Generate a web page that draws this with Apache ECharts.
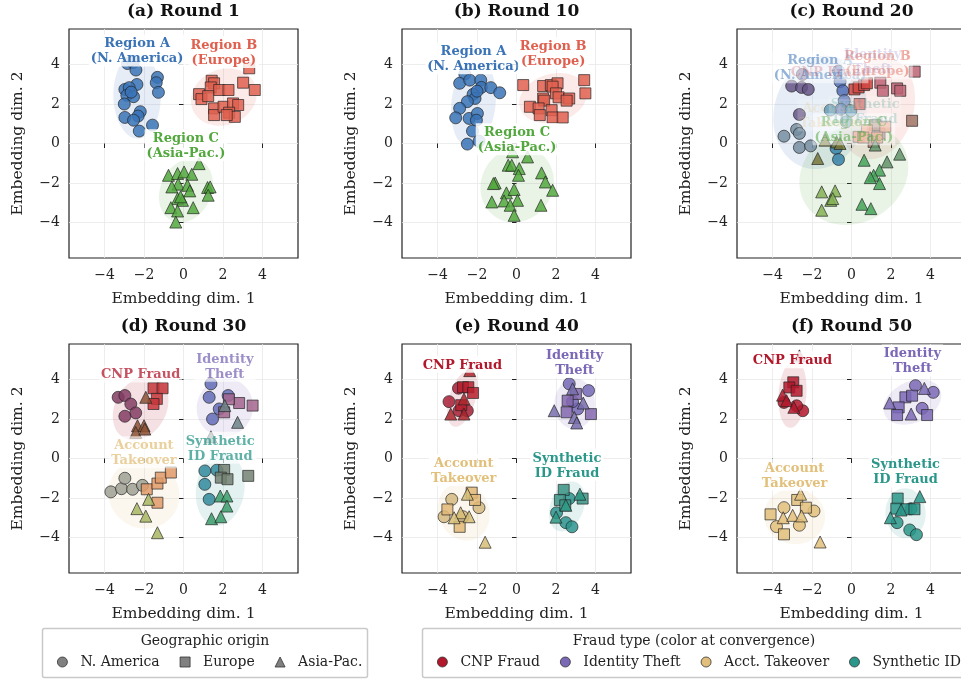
<!DOCTYPE html>
<html>
<head>
<meta charset="utf-8">
<script src="https://cdn.jsdelivr.net/npm/echarts@6/dist/echarts.min.js"></script>
<style>
  html, body { margin: 0; padding: 0; background: #fff; }
  #chart { width: 961px; height: 682px; }
</style>
</head>
<body>
<div id="chart"></div>
<script>
// ---------------- data ----------------
const panelTitles = ['(a) Round 1', '(b) Round 10', '(c) Round 20', '(d) Round 30', '(e) Round 40', '(f) Round 50'];
const regionNames = ['N. America', 'Europe', 'Asia-Pac.'];
const regionLabels = ['Region A\n(N. America)', 'Region B\n(Europe)', 'Region C\n(Asia-Pac.)'];
const fraudNames = ['CNP Fraud', 'Identity Theft', 'Acct. Takeover', 'Synthetic ID'];
const fraudLabels = ['CNP Fraud', 'Identity\nTheft', 'Account\nTakeover', 'Synthetic\nID Fraud'];
const tickValues = [-4, -2, 0, 2, 4];
const axisNames = ['Embedding dim. 1', 'Embedding dim. 2'];

// [x, y, region]  region: 0 N. America, 1 Europe, 2 Asia-Pac.
const round1 = [
  [-2.84, 4.05, 0], [-2.55, 4.1, 0], [-2.41, 3.72, 0], [-1.32, 3.35, 0], [-1.38, 3.08, 0],
  [-1.27, 2.59, 0], [-2.36, 2.99, 0], [-2.97, 2.74, 0], [-2.75, 2.83, 0], [-2.87, 2.44, 0],
  [-2.53, 2.37, 0], [-3.0, 2.0, 0], [-2.19, 1.61, 0], [-2.30, 1.39, 0], [-2.97, 1.32, 0],
  [-2.53, 1.18, 0], [-1.57, 0.93, 0], [-2.24, 0.63, 0], [-2.65, 2.6, 0],
  [3.33, 3.81, 1], [1.43, 3.18, 1], [1.55, 3.05, 1], [1.38, 2.84, 1], [1.81, 2.71, 1],
  [2.28, 2.71, 1], [3.02, 3.08, 1], [3.61, 2.71, 1], [0.79, 2.5, 1], [0.91, 2.25, 1],
  [1.25, 2.4, 1], [1.55, 1.78, 1], [1.55, 1.44, 1], [2.03, 1.86, 1], [2.51, 2.03, 1],
  [2.77, 1.95, 1], [2.31, 1.56, 1], [2.6, 1.35, 1], [2.19, 1.44, 1],
  [0.79, -1.02, 2], [-0.76, -1.61, 2], [-0.30, -1.52, 2], [0.03, -1.44, 2], [0.42, -1.56, 2],
  [-0.27, -2.06, 2], [-0.59, -2.2, 2], [0.2, -2.12, 2], [0.32, -2.4, 2], [1.22, -2.23, 2],
  [1.35, -2.2, 2], [1.25, -2.62, 2], [-0.3, -2.79, 2], [-0.05, -2.88, 2], [-0.64, -3.25, 2],
  [-0.3, -3.42, 2], [0.49, -3.25, 2], [-0.39, -3.98, 2], [-0.15, -2.7, 2]
];

const round10 = [
  [-2.62, 3.52, 0], [-2.88, 3.05, 0], [-2.37, 3.21, 0], [-1.81, 3.21, 0], [-1.78, 2.84, 0],
  [-1.30, 2.83, 0], [-0.85, 2.57, 0], [-2.2, 2.49, 0], [-2.1, 2.28, 0], [-2.49, 2.12, 0],
  [-2.88, 1.78, 0], [-3.08, 1.30, 0], [-2.40, 1.27, 0], [-1.98, 1.52, 0], [-2.03, 1.18, 0],
  [-2.23, 0.63, 0], [-1.9, 0.12, 0], [-2.49, -0.03, 0], [-2.0, 2.65, 0],
  [0.34, 2.96, 1], [1.35, 2.91, 1], [1.74, 2.96, 1], [2.08, 3.05, 1], [1.83, 2.88, 1],
  [3.43, 3.21, 1], [3.49, 2.54, 1], [2.0, 2.54, 1], [2.13, 2.34, 1], [2.67, 2.28, 1],
  [2.54, 2.17, 1], [1.35, 2.28, 1], [1.40, 2.17, 1], [0.68, 1.86, 1], [1.12, 1.78, 1],
  [1.18, 1.44, 1], [1.78, 1.69, 1], [1.83, 1.32, 1], [2.34, 1.32, 1],
  [-0.2, -0.42, 2], [-0.42, -1.1, 2], [-0.24, -1.1, 2], [0.56, -0.68, 2], [0.14, -1.27, 2],
  [0.10, -1.61, 2], [-1.08, -2.0, 2], [-1.17, -2.03, 2], [1.27, -1.49, 2], [1.46, -1.95, 2],
  [1.83, -2.37, 2], [-0.51, -2.5, 2], [-0.12, -2.33, 2], [-0.63, -2.91, 2], [0.05, -2.88, 2],
  [-1.25, -2.96, 2], [-0.32, -3.13, 2], [1.24, -3.13, 2], [-0.12, -3.64, 2]
];

// [x, y, region, fraud]  fraud: 0 CNP, 1 Identity Theft, 2 Acct. Takeover, 3 Synthetic ID
const round20 = [
  [-2.49, 3.5, 0, 0], [-3.03, 2.91, 0, 0], [-2.53, 2.84, 0, 0], [-2.19, 2.74, 0, 0], [-2.64, 1.47, 0, 0],
  [-0.66, 3.67, 0, 1], [-0.58, 3.13, 0, 1], [-0.44, 2.67, 0, 1], [-0.37, 2.17, 0, 1], [-0.54, 1.73, 0, 1],
  [-0.03, 1.66, 0, 3], [-1.08, 1.69, 0, 3], [-0.27, 1.1, 0, 3],
  [-3.42, 0.37, 0, 2], [-2.78, 0.71, 0, 2], [-2.64, 0.51, 0, 2], [-2.64, -0.2, 0, 2], [-2.07, -0.12, 0, 2],
  [-0.78, -0.25, 0, 3], [-0.66, -0.81, 0, 3],
  [0.15, 2.74, 1, 0], [0.36, 2.84, 1, 0], [0.64, 2.96, 1, 0], [0.78, 3.05, 1, 0], [0.41, 2.0, 1, 0],
  [1.46, 3.08, 1, 1], [1.59, 2.67, 1, 1], [2.31, 2.79, 1, 1], [2.47, 2.67, 1, 1], [3.2, 3.64, 1, 1],
  [3.07, 1.15, 1, 3], [1.42, 0.51, 1, 3], [1.2, 0.93, 1, 3], [1.12, 0.08, 1, 3],
  [0.36, 0.34, 1, 2], [0.78, 0.68, 1, 2], [1.71, 0.85, 1, 2], [0.6, 0.3, 1, 2], [1.3, 0.3, 1, 2],
  [-1.71, -0.76, 2, 0], [-1.34, 0.17, 2, 0], [-0.75, 0.08, 2, 0], [-0.58, 0.0, 2, 0],
  [2.44, -0.54, 2, 1], [1.8, -0.93, 2, 1], [1.2, -0.08, 2, 1],
  [0.64, -0.85, 2, 3], [1.42, -1.35, 2, 3], [1.12, -1.61, 2, 3], [0.95, -1.73, 2, 3], [1.42, -2.03, 2, 3],
  [0.53, -3.08, 2, 3], [0.98, -3.3, 2, 3],
  [-1.51, -2.45, 2, 2], [-0.83, -2.4, 2, 2], [-1.05, -2.88, 2, 2], [-0.95, -2.79, 2, 2], [-1.51, -3.38, 2, 2]
];

const round30 = [
  [-3.31, 3.1, 0, 0], [-2.97, 3.19, 0, 0], [-2.67, 2.76, 0, 0], [-2.42, 2.31, 0, 0], [-2.97, 2.14, 0, 0],
  [-1.52, 3.56, 1, 0], [-1.06, 3.56, 1, 0], [-1.35, 3.02, 1, 0], [-1.52, 2.76, 1, 0],
  [-1.91, 3.1, 2, 0], [-2.33, 1.66, 2, 0], [-2.0, 1.66, 2, 0], [-2.42, 1.32, 2, 0], [-1.96, 1.49, 2, 0],
  [1.39, 3.78, 0, 1], [1.30, 3.1, 0, 1], [2.26, 3.19, 0, 1], [1.81, 2.51, 0, 1], [1.47, 2.0, 0, 1],
  [2.06, 2.34, 1, 1], [2.82, 2.81, 1, 1], [3.5, 2.68, 1, 1], [2.3, 3.0, 1, 1],
  [2.09, 2.68, 2, 1], [2.74, 1.83, 2, 1], [1.39, 1.1, 2, 1],
  [1.08, -0.63, 0, 3], [1.69, -0.59, 0, 3], [1.08, -1.31, 0, 3], [1.3, -2.07, 0, 3],
  [2.06, -0.58, 1, 3], [1.89, -0.97, 1, 3], [2.23, -1.05, 1, 3], [3.28, -0.88, 1, 3],
  [1.86, -1.9, 2, 3], [2.2, -1.9, 2, 3], [2.2, -2.41, 2, 3], [1.42, -3.05, 2, 3], [1.89, -2.95, 2, 3],
  [-3.68, -1.69, 0, 2], [-3.14, -1.53, 0, 2], [-2.97, -1.0, 0, 2], [-2.58, -1.56, 0, 2], [-2.08, -1.36, 0, 2],
  [-1.86, -1.56, 1, 2], [-1.32, -1.27, 1, 2], [-1.15, -0.97, 1, 2], [-0.64, -0.71, 1, 2], [-1.32, -2.24, 1, 2],
  [-2.36, -2.54, 2, 2], [-1.91, -2.92, 2, 2], [-1.77, -2.07, 2, 2], [-1.32, -3.76, 2, 2]
];

const round40 = [
  [-3.42, 2.88, 0, 0], [-2.94, 3.56, 0, 0], [-2.91, 2.42, 0, 0], [-2.49, 2.42, 0, 0],
  [-2.71, 3.61, 1, 0], [-2.44, 3.61, 1, 0], [-2.2, 3.32, 1, 0], [-2.8, 2.7, 1, 0],
  [-3.33, 2.25, 2, 0], [-2.66, 3.02, 2, 0], [-2.66, 2.25, 2, 0], [-2.37, 4.45, 2, 0],
  [2.67, 3.78, 0, 1], [3.65, 3.44, 0, 1], [3.1, 2.51, 0, 1], [2.84, 2.88, 0, 1],
  [3.01, 3.27, 1, 1], [2.59, 2.93, 1, 1], [2.54, 2.34, 1, 1], [3.77, 2.25, 1, 1],
  [1.91, 2.42, 2, 1], [3.38, 2.81, 2, 1], [2.93, 2.08, 2, 1], [3.05, 1.8, 2, 1], [2.84, 3.53, 2, 1],
  [-3.28, -2.07, 0, 2], [-3.67, -2.95, 0, 2], [-2.71, -2.95, 0, 2], [-1.9, -2.49, 0, 2],
  [-3.5, -2.58, 1, 2], [-2.27, -1.73, 1, 2], [-2.1, -2.1, 1, 2], [-2.88, -3.46, 1, 2],
  [-2.49, -1.81, 2, 2], [-2.83, -2.75, 2, 2], [-3.16, -3.0, 2, 2], [-2.4, -2.95, 2, 2], [-1.59, -4.24, 2, 2],
  [2.67, -2.03, 0, 3], [2.03, -2.75, 0, 3], [2.5, -3.25, 0, 3], [2.81, -3.46, 0, 3],
  [2.39, -1.59, 1, 3], [2.2, -2.1, 1, 3], [2.47, -2.37, 1, 3], [3.35, -2.03, 1, 3],
  [3.21, -1.81, 2, 3], [2.0, -2.97, 2, 3], [2.5, -2.37, 2, 3]
];

const round50 = [
  [-3.42, 2.84, 0, 0], [-2.47, 2.42, 0, 0], [-2.78, 2.67, 0, 0],
  [-2.95, 3.86, 1, 0], [-3.15, 3.6, 1, 0], [-2.78, 3.43, 1, 0],
  [-3.49, 3.21, 2, 0], [-3.29, 2.93, 2, 0], [-2.92, 2.59, 2, 0], [-2.64, 5.2, 2, 0],
  [3.24, 3.69, 0, 1], [4.14, 3.35, 0, 1], [3.58, 2.54, 0, 1],
  [2.73, 3.1, 1, 1], [2.39, 2.59, 1, 1], [2.31, 2.2, 1, 1], [3.83, 2.2, 1, 1], [3.07, 3.18, 1, 1],
  [1.93, 2.81, 2, 1], [3.69, 3.55, 2, 1], [3.02, 2.25, 2, 1],
  [-3.42, -2.49, 0, 2], [-3.8, -3.45, 0, 2], [-2.64, -3.38, 0, 2], [-1.9, -2.66, 0, 2],
  [-4.1, -2.83, 1, 2], [-2.75, -2.1, 1, 2], [-2.31, -2.49, 1, 2], [-3.42, -3.84, 1, 2],
  [-2.58, -1.81, 2, 2], [-3.46, -3.0, 2, 2], [-2.98, -2.88, 2, 2], [-2.53, -2.91, 2, 2], [-1.59, -4.23, 2, 2],
  [3.02, -2.54, 0, 3], [2.31, -3.25, 0, 3], [2.95, -3.62, 0, 3], [3.29, -3.86, 0, 3],
  [2.34, -2.03, 1, 3], [2.27, -2.54, 1, 3], [2.78, -2.57, 1, 3], [3.19, -2.57, 1, 3],
  [3.46, -1.93, 2, 3], [1.97, -3.0, 2, 3], [2.51, -2.61, 2, 3]
];

const roundPoints = [round1, round10, round20, round30, round40, round50];

// ---------------- styling ----------------
const FONT = '"DejaVu Serif", serif';
const REGION_COLORS = ['#3a73b6', '#e0604f', '#52a83d'];
const FRAUD_COLORS = ['#b2182b', '#7b68b6', '#e2c07b', '#2a978a'];
const SYMBOLS = ['circle', 'rect', 'triangle'];
const SYMBOL_SIZES = [12, 11, 12];
// how far each panel's colours have moved toward the fraud-type colour,
// how strongly each label set is shown, and which grouping the ellipses follow
const panelStyle = [
  { mix: 0.0, regionAlpha: 1.0, fraudAlpha: 0.0, ellipse: 'region' },
  { mix: 0.0, regionAlpha: 1.0, fraudAlpha: 0.0, ellipse: 'region' },
  { mix: 0.35, regionAlpha: 0.55, fraudAlpha: 0.22, ellipse: 'region' },
  { mix: 0.6, regionAlpha: 0.0, fraudAlpha: 0.75, ellipse: 'fraud' },
  { mix: 0.92, regionAlpha: 0.0, fraudAlpha: 1.0, ellipse: 'fraud' },
  { mix: 1.0, regionAlpha: 0.0, fraudAlpha: 1.0, ellipse: 'fraud' }
];
const GRID_LEFT = [69, 402, 737];
const GRID_TOP = [29, 344];
const GRID_SIZE = 229;
const AXIS_MIN = -5.8, AXIS_MAX = 5.8;
const ELLIPSE_K = 2.1;
const REGION_LIFT = 1.48;
const FRAUD_LIFT = 1.3;

function hexRgb(h) {
  const n = parseInt(h.slice(1), 16);
  return [(n >> 16) & 255, (n >> 8) & 255, n & 255];
}
function blend(c1, c2, t) {
  const a = hexRgb(c1), b = hexRgb(c2);
  const m = a.map((v, i) => Math.round(v * (1 - t) + b[i] * t));
  return 'rgb(' + m.join(',') + ')';
}
function rgba(hex, a) {
  const c = hexRgb(hex);
  return 'rgba(' + c.join(',') + ',' + a + ')';
}
function pointColor(d, mix) {
  if (d[3] === undefined || mix === 0) return REGION_COLORS[d[2]];
  return blend(REGION_COLORS[d[2]], FRAUD_COLORS[d[3]], mix);
}
function centroid(pts) {
  let sx = 0, sy = 0;
  pts.forEach(p => { sx += p[0]; sy += p[1]; });
  return [sx / pts.length, sy / pts.length];
}
// covariance ellipse of a group: [cx, cy, semi-axis a, semi-axis b, angle]
function ellipseOf(pts) {
  const [mx, my] = centroid(pts);
  let sxx = 0, syy = 0, sxy = 0;
  pts.forEach(p => {
    const dx = p[0] - mx, dy = p[1] - my;
    sxx += dx * dx; syy += dy * dy; sxy += dx * dy;
  });
  const n = pts.length - 1;
  sxx /= n; syy /= n; sxy /= n;
  const tr = sxx + syy, det = sxx * syy - sxy * sxy;
  const disc = Math.sqrt(Math.max(tr * tr / 4 - det, 0));
  const l1 = tr / 2 + disc, l2 = Math.max(tr / 2 - disc, 0);
  const ang = 0.5 * Math.atan2(2 * sxy, sxx - syy);
  return [mx, my, ELLIPSE_K * Math.sqrt(l1), ELLIPSE_K * Math.sqrt(l2), ang];
}
const fmtTick = v => (v < 0 ? '\u2212' + (-v) : String(v));

const grids = [], xAxes = [], yAxes = [], titles = [], series = [];

roundPoints.forEach((pts, p) => {
  const st = panelStyle[p];
  const col = p % 3, row = Math.floor(p / 3);
  const left = GRID_LEFT[col], top = GRID_TOP[row];

  grids.push({
    left: left, top: top, width: GRID_SIZE, height: GRID_SIZE,
    show: true, borderColor: '#222', borderWidth: 1.2, backgroundColor: 'transparent',
    containLabel: false, outerBoundsMode: 'none'
  });
  const axisCommon = {
    gridIndex: p, type: 'value', min: AXIS_MIN, max: AXIS_MAX,
    nameLocation: 'middle',
    nameTextStyle: { fontFamily: FONT, fontSize: 15.5, color: '#222' },
    axisLine: { show: false },
    axisTick: { show: true, length: 4.5, customValues: tickValues, lineStyle: { color: '#222', width: 1 } },
    axisLabel: { customValues: tickValues, formatter: fmtTick, fontFamily: FONT, fontSize: 14, color: '#222' },
    splitLine: { show: true, lineStyle: { color: '#e9e9e9', width: 0.8 } }
  };
  xAxes.push(Object.assign({}, axisCommon, {
    name: axisNames[0], nameGap: 33,
    axisLabel: Object.assign({}, axisCommon.axisLabel, { margin: 10 })
  }));
  yAxes.push(Object.assign({}, axisCommon, {
    name: axisNames[1], nameGap: 43, nameRotate: 90,
    axisLabel: Object.assign({}, axisCommon.axisLabel, { margin: 9 })
  }));
  titles.push({
    text: panelTitles[p], left: left + GRID_SIZE / 2, top: row === 0 ? 3 : 318,
    textAlign: 'center', padding: 0,
    textStyle: { fontFamily: FONT, fontWeight: 'bold', fontSize: 17, color: '#111' }
  });

  // shaded ellipses behind each group
  const byRegion = st.ellipse === 'region';
  const nGroups = byRegion ? 3 : 4;
  const ellData = [];
  for (let g = 0; g < nGroups; g++) {
    const sel = pts.filter(d => (byRegion ? d[2] : d[3]) === g);
    if (sel.length > 2) ellData.push(ellipseOf(sel).concat([g]));
  }
  series.push({
    type: 'custom', xAxisIndex: p, yAxisIndex: p, z: 1, silent: true,
    encode: { x: 0, y: 1 },
    data: ellData,
    renderItem: function (params, api) {
      const cx = api.value(0), cy = api.value(1), a = api.value(2), b = api.value(3), ang = api.value(4);
      const g = api.value(5);
      const ca = Math.cos(ang), sa = Math.sin(ang);
      const pointsPx = [];
      for (let k = 0; k < 72; k++) {
        const t = (k / 72) * Math.PI * 2;
        const ex = a * Math.cos(t), ey = b * Math.sin(t);
        pointsPx.push(api.coord([cx + ex * ca - ey * sa, cy + ex * sa + ey * ca]));
      }
      const base = byRegion ? REGION_COLORS[g] : FRAUD_COLORS[g];
      return { type: 'polygon', shape: { points: pointsPx }, style: { fill: rgba(base, 0.13), stroke: null } };
    }
  });

  // points, one series per region marker shape
  for (let r = 0; r < 3; r++) {
    series.push({
      type: 'scatter', name: regionNames[r], xAxisIndex: p, yAxisIndex: p, z: 2,
      symbol: SYMBOLS[r], symbolSize: SYMBOL_SIZES[r],
      itemStyle: { opacity: 0.85, borderColor: '#222', borderWidth: 0.8, color: REGION_COLORS[r] },
      emphasis: { disabled: true },
      data: pts.filter(d => d[2] === r).map(d => ({ value: [d[0], d[1]], itemStyle: { color: pointColor(d, st.mix) } }))
    });
  }

  // cluster labels above each group's centroid
  const labelData = [];
  if (st.regionAlpha > 0) {
    for (let g = 0; g < 3; g++) {
      const sel = pts.filter(d => d[2] === g);
      if (sel.length) { const c = centroid(sel); labelData.push([c[0], c[1] + REGION_LIFT, 0, g]); }
    }
  }
  if (st.fraudAlpha > 0) {
    for (let g = 0; g < 4; g++) {
      const sel = pts.filter(d => d[3] === g);
      if (sel.length) { const c = centroid(sel); labelData.push([c[0], c[1] + FRAUD_LIFT, 1, g]); }
    }
  }
  series.push({
    type: 'custom', xAxisIndex: p, yAxisIndex: p, z: 5, silent: true,
    encode: { x: 0, y: 1 },
    data: labelData,
    renderItem: function (params, api) {
      const pos = api.coord([api.value(0), api.value(1)]);
      const isFraud = api.value(2) === 1, g = api.value(3);
      return {
        type: 'text', x: pos[0], y: pos[1],
        style: {
          text: isFraud ? fraudLabels[g] : regionLabels[g],
          fill: isFraud ? FRAUD_COLORS[g] : REGION_COLORS[g],
          font: 'bold 13px ' + FONT, lineHeight: 15,
          align: 'center', verticalAlign: 'bottom',
          textAlign: 'center', textVerticalAlign: 'bottom',
          backgroundColor: 'rgba(255,255,255,0.85)', padding: [2, 2, 0, 2],
          opacity: isFraud ? st.fraudAlpha : st.regionAlpha
        }
      };
    }
  });
});

// fraud-type entries for the colour legend
fraudNames.forEach((n, i) => {
  series.push({ type: 'scatter', name: n, xAxisIndex: 0, yAxisIndex: 0, data: [], itemStyle: { color: FRAUD_COLORS[i] } });
});

const legendText = { fontFamily: FONT, fontSize: 14, color: '#222', padding: [0, 0, 0, 8] };
const option = {
  backgroundColor: '#fff',
  animation: false,
  title: titles,
  grid: grids,
  xAxis: xAxes,
  yAxis: yAxes,
  series: series,
  legend: [
    {
      left: 57, top: 655, width: 400, padding: 0, itemWidth: 10, itemHeight: 10, itemGap: 20,
      selectedMode: false, textStyle: legendText,
      data: regionNames.map((n, i) => ({
        name: n, icon: SYMBOLS[i],
        itemStyle: { color: '#808080', borderColor: '#333', borderWidth: 0.8, opacity: 1 }
      }))
    },
    {
      left: 437, top: 655, width: 700, padding: 0, itemWidth: 10, itemHeight: 10, itemGap: 20,
      selectedMode: false, textStyle: legendText,
      data: fraudNames.map((n, i) => ({
        name: n, icon: 'circle',
        itemStyle: { color: FRAUD_COLORS[i], borderColor: '#333', borderWidth: 0.8, opacity: 1 }
      }))
    }
  ],
  graphic: [
    { type: 'rect', z: 0, shape: { x: 42.5, y: 628.5, width: 325, height: 49, r: 2 }, style: { fill: 'rgba(255,255,255,0)', stroke: '#c9c9c9', lineWidth: 1.5 } },
    { type: 'rect', z: 0, shape: { x: 422.5, y: 628.5, width: 560, height: 49, r: 2 }, style: { fill: 'rgba(255,255,255,0)', stroke: '#c9c9c9', lineWidth: 1.5 } },
    { type: 'text', z: 1, x: 205, y: 641, style: { text: 'Geographic origin', font: '14px ' + FONT, fill: '#222', align: 'center', verticalAlign: 'middle', textAlign: 'center', textVerticalAlign: 'middle' } },
    { type: 'text', z: 1, x: 694, y: 641, style: { text: 'Fraud type (color at convergence)', font: '14px ' + FONT, fill: '#222', align: 'center', verticalAlign: 'middle', textAlign: 'center', textVerticalAlign: 'middle' } }
  ]
};

const chart = echarts.init(document.getElementById('chart'), null, { renderer: 'canvas', width: 961, height: 682 });
chart.setOption(option);
</script>
</body>
</html>
